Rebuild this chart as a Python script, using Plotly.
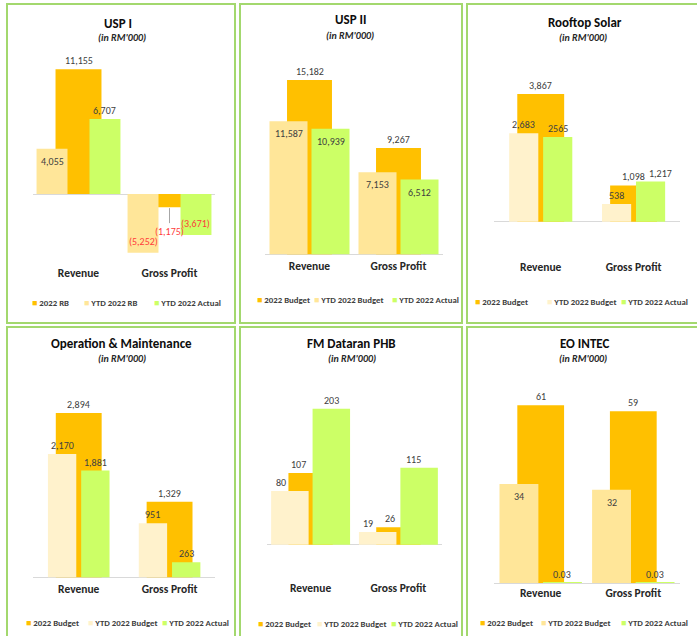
import plotly.graph_objects as go

# ---------------- data ----------------
categories = ["Revenue", "Gross Profit"]
panel_titles = ["USP I", "USP II", "Rooftop Solar",
                "Operation & Maintenance", "FM Dataran PHB", "EO INTEC"]
subtitle_text = "(in RM'000)"

series_names_rb = ["2022 RB", "YTD 2022 RB", "YTD 2022 Actual"]
series_names = ["2022 Budget", "YTD 2022 Budget", "YTD 2022 Actual"]

usp1_budget = [11155, -1175]
usp1_ytd_budget = [4055, -5252]
usp1_ytd_actual = [6707, -3671]

usp2_budget = [15182, 9267]
usp2_ytd_budget = [11587, 7153]
usp2_ytd_actual = [10939, 6512]

rooftop_budget = [3867, 1098]
rooftop_ytd_budget = [2683, 538]
rooftop_ytd_actual = [2565, 1217]
rooftop_ytd_actual_labels = ["2565", "1,217"]

om_budget = [2894, 1329]
om_ytd_budget = [2170, 951]
om_ytd_actual = [1881, 263]

fm_budget = [107, 26]
fm_ytd_budget = [80, 19]
fm_ytd_actual = [203, 115]

eo_budget = [61, 59]
eo_ytd_budget = [34, 32]
eo_ytd_actual = [0.03, 0.03]

# ---------------- style ----------------
W, H = 697, 636
FONT = "Carlito, Lato, sans-serif"
C_BUDGET = "#FFC000"
C_YTD_DARK = "#FFE699"
C_YTD_LIGHT = "#FFF2CC"
C_ACTUAL = "#CCFF66"
C_LABEL = "#404040"
C_NEG = "#FF3B3B"
C_BORDER = "#A3D86E"


def fmt(v):
    if abs(v) < 1:
        return f"{v:.2f}"
    s = f"{abs(v):,.0f}"
    return f"({s})" if v < 0 else s


panels = [
    dict(data=(usp1_budget, usp1_ytd_budget, usp1_ytd_actual), names=series_names_rb,
         ytd_color=C_YTD_DARK, box=(7, 4, 235, 323),
         x0=33, x1=215, zero=194, k=0.01118, top=50, bottom=264,
         side_w=0.34, side_d=0.291, title_xy=(118, 23), sub_xy=(122, 38),
         pos=[["o", "lead"], ["i", "i"], ["o", "i"]],
         dx=[[0, 0], [0, 0], [0, 0]],
         legend_x=[30, 82, 152], legend_y=303),
    dict(data=(usp2_budget, usp2_ytd_budget, usp2_ytd_actual), names=series_names,
         ytd_color=C_YTD_DARK, box=(240, 4, 462, 323),
         x0=265, x1=443, zero=254.3, k=0.01148, top=50, bottom=257,
         side_w=0.427, side_d=0.236, title_xy=(351, 20), sub_xy=(350, 35),
         pos=[["o", "o"], ["i", "i"], ["i", "i"]],
         dx=[[0, 0], [0, 0], [0, 0]],
         legend_x=[255, 312, 390], legend_y=300),
    dict(data=(rooftop_budget, rooftop_ytd_budget, rooftop_ytd_actual), names=series_names,
         ytd_color=C_YTD_LIGHT, box=(467, 4, 700, 323),
         x0=494.3, x1=680, zero=221.7, k=0.0330, top=50, bottom=258,
         side_w=0.314, side_d=0.183, title_xy=(585, 22.7), sub_xy=(583, 37.3),
         pos=[["o", "o"], ["o", "o"], ["o", "o"]],
         dx=[[0, 0], [0, 0], [0, 10]],
         labels_override={2: rooftop_ytd_actual_labels},
         legend_x=[473, 545, 619], legend_y=301.7),
    dict(data=(om_budget, om_ytd_budget, om_ytd_actual), names=series_names,
         ytd_color=C_YTD_LIGHT, box=(7, 327, 235, 640),
         x0=33.3, x1=215, zero=577.3, k=0.05677, top=372, bottom=580,
         side_w=0.312, side_d=0.183, title_xy=(121.7, 343), sub_xy=(121.7, 358),
         pos=[["o", "o"], ["o", "o"], ["o", "o"]],
         dx=[[0, 0], [0, 0], [0, 0]],
         legend_x=[24, 86, 160], legend_y=623),
    dict(data=(fm_budget, fm_ytd_budget, fm_ytd_actual), names=series_names,
         ytd_color=C_YTD_LIGHT, box=(240, 327, 462, 640),
         x0=266.7, x1=442.3, zero=544.7, k=0.670, top=372, bottom=579.5,
         side_w=0.427, side_d=0.236, title_xy=(351.7, 343), sub_xy=(351.7, 358),
         pos=[["o", "o"], ["o", "o"], ["o", "o"]],
         dx=[[-12, -8], [-9, -10], [0, -6]],
         legend_x=[255.7, 315, 389], legend_y=623.7),
    dict(data=(eo_budget, eo_ytd_budget, eo_ytd_actual), names=series_names,
         ytd_color=C_YTD_DARK, box=(467, 327, 700, 640),
         x0=494.4, x1=679.6, zero=583, k=2.913, top=372, bottom=584.5,
         side_w=0.42, side_d=0.235, title_xy=(584, 343), sub_xy=(583.3, 358.7),
         pos=[["o", "o"], ["i", "i"], ["o", "o"]],
         dx=[[0, 0], [0, 0], [0, 0]],
         legend_x=[478.3, 539, 619], legend_y=623),
]

fig = go.Figure()
annotations = []
shapes = []

for i, (p, title) in enumerate(zip(panels, panel_titles), start=1):
    xa, ya = f"x{i}", f"y{i}"
    xkey = "xaxis" if i == 1 else f"xaxis{i}"
    ykey = "yaxis" if i == 1 else f"yaxis{i}"
    colors = [C_BUDGET, p["ytd_color"], C_ACTUAL]
    widths = [0.505, p["side_w"], p["side_w"]]
    centers = [0.0, -p["side_d"], p["side_d"]]

    for s, (vals, name, col, w, c) in enumerate(zip(p["data"], p["names"], colors, widths, centers)):
        fig.add_trace(go.Bar(
            x=categories, y=vals, name=name, xaxis=xa, yaxis=ya,
            marker=dict(color=col, line=dict(width=0)),
            width=w, offset=c - w / 2, showlegend=False,
        ))
        labels = p.get("labels_override", {}).get(s, [fmt(v) for v in vals])
        for j, (v, lab) in enumerate(zip(vals, labels)):
            pos = p["pos"][s][j]
            color = C_NEG if v < 0 else C_LABEL
            ann = dict(x=j + c, y=v, xref=xa, yref=ya, text=lab, showarrow=False,
                       font=dict(family=FONT, size=10, color=color),
                       xshift=p["dx"][s][j])
            if pos == "lead":
                ann.update(showarrow=True, arrowhead=0, arrowwidth=1,
                           arrowcolor="#A6A6A6", ax=0, ay=24, standoff=1)
            elif v >= 0:
                if pos == "o":
                    ann.update(yanchor="bottom", yshift=0)
                else:
                    ann.update(yanchor="top", yshift=-4)
            else:
                if pos == "o":
                    ann.update(yanchor="top", yshift=0)
                else:
                    ann.update(yanchor="bottom", yshift=3)
            annotations.append(ann)

    # axes
    ymin = -(p["bottom"] - p["zero"]) / p["k"]
    ymax = (p["zero"] - p["top"]) / p["k"]
    fig.update_layout({
        xkey: dict(domain=[p["x0"] / W, p["x1"] / W], anchor=ya, type="category",
                   range=[-0.5, 1.5], showgrid=False, zeroline=False, showline=False,
                   ticks="", tickfont=dict(family=FONT, size=11.5, color="#262626", weight="bold")),
        ykey: dict(domain=[1 - p["bottom"] / H, 1 - p["top"] / H], anchor=xa,
                   range=[ymin, ymax], showgrid=False, showticklabels=False, ticks="",
                   zeroline=True, zerolinecolor="#D9D9D9", zerolinewidth=1, showline=False),
    })

    # title and subtitle
    annotations.append(dict(x=p["title_xy"][0] / W, y=1 - p["title_xy"][1] / H,
                            xref="paper", yref="paper", text=f"<b>{title}</b>",
                            showarrow=False, xanchor="center", yanchor="middle",
                            font=dict(family=FONT, size=13, color="#0D0D0D")))
    annotations.append(dict(x=p["sub_xy"][0] / W, y=1 - p["sub_xy"][1] / H,
                            xref="paper", yref="paper", text=f"<b><i>{subtitle_text}</i></b>",
                            showarrow=False, xanchor="center", yanchor="middle",
                            font=dict(family=FONT, size=10, color="#262626")))

    # legend row
    for name, col, lx in zip(p["names"], colors, p["legend_x"]):
        annotations.append(dict(
            x=lx / W, y=1 - p["legend_y"] / H, xref="paper", yref="paper",
            text=f"<span style='color:{col}'>■</span> <b>{name}</b>",
            showarrow=False, xanchor="left", yanchor="middle",
            font=dict(family=FONT, size=8.8, color="#404040")))

    # panel border
    x0b, y0b, x1b, y1b = p["box"]
    shapes.append(dict(type="rect", xref="paper", yref="paper",
                       x0=x0b / W, x1=x1b / W, y0=1 - y1b / H, y1=1 - y0b / H,
                       line=dict(color=C_BORDER, width=2), fillcolor="rgba(0,0,0,0)",
                       layer="below"))

fig.update_layout(
    width=W, height=H, margin=dict(l=0, r=0, t=0, b=0),
    paper_bgcolor="white", plot_bgcolor="rgba(0,0,0,0)",
    barmode="overlay", showlegend=False, hovermode=False,
    annotations=annotations, shapes=shapes,
    font=dict(family=FONT, color=C_LABEL),
)

fig.write_html("out.html", config={"displayModeBar": False},
               post_script="document.body.style.margin='0px';")
